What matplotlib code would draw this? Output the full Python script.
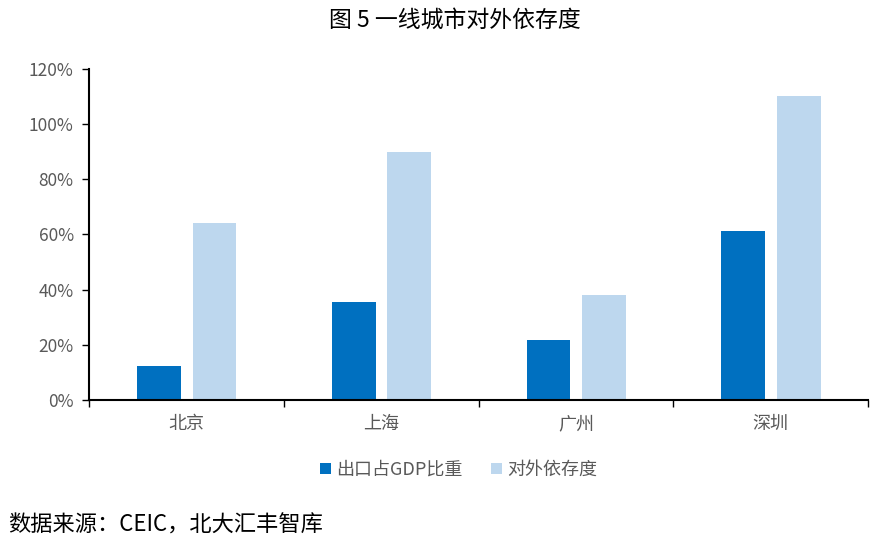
import numpy as np
import matplotlib.pyplot as plt
from matplotlib.ticker import PercentFormatter, FixedLocator

plt.rcParams['font.family'] = ['Noto Sans CJK SC', 'DejaVu Sans']

cities = ["北京", "上海", "广州", "深圳"]
export_share = [12.3, 35.5, 21.8, 61.3]
dependency = [64.2, 89.9, 38.1, 110.2]
series_names = ["出口占GDP比重", "对外依存度"]

dark = "#0070C0"
light = "#BDD7EE"
grey = "#595959"

fig = plt.figure(figsize=(8.89, 5.40), dpi=100)
ax = fig.add_axes([0.1001, 0.2593, 0.8763, 0.6129])

x = np.arange(len(cities))
w = 0.225
ax.bar(x - 0.141, export_share, width=w, color=dark, label=series_names[0])
ax.bar(x + 0.144, dependency, width=w, color=light, label=series_names[1])

ax.set_xlim(-0.5, len(cities) - 0.5)
ax.set_ylim(0, 120)
ax.set_yticks(np.arange(0, 121, 20))
ax.yaxis.set_major_formatter(PercentFormatter(decimals=0))

ax.set_xticks(x)
ax.set_xticklabels(cities)
ax.xaxis.set_minor_locator(FixedLocator(np.arange(-0.5, len(cities), 1.0)))
ax.tick_params(axis='x', which='major', length=0, pad=11, labelsize=13, labelcolor=grey)
ax.tick_params(axis='x', which='minor', length=5, width=1, direction='out', color='black')
ax.tick_params(axis='y', length=5, width=1, direction='out', labelsize=12.5, labelcolor=grey, pad=6)

for side in ['top', 'right']:
    ax.spines[side].set_visible(False)
for side in ['left', 'bottom']:
    ax.spines[side].set_linewidth(1.5)

fig.text(0.512, 0.962, "图 5 一线城市对外依存度", ha='center', va='center', fontsize=16.5)
fig.text(0.009, 0.028, "数据来源：CEIC，北大汇丰智库", ha='left', va='center', fontsize=16)

fig.legend(loc='center', bbox_to_anchor=(0.516, 0.13), ncol=2, frameon=False,
           fontsize=13, labelcolor=grey, handlelength=0.6, handleheight=0.6,
           handletextpad=0.3, columnspacing=1.6)

plt.savefig("out.png", dpi=100)
